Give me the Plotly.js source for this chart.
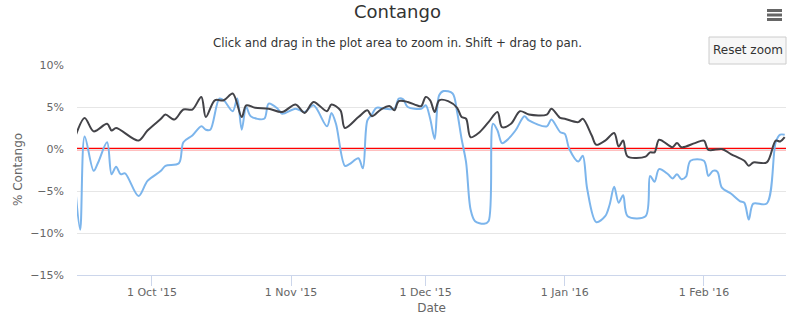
<!DOCTYPE html>
<html>
<head>
<meta charset="utf-8">
<script src="https://cdn.plot.ly/plotly-3.0.1.min.js"></script>
<style>
html,body{margin:0;padding:0;background:#fff;}
#chart{width:795px;height:327px;}
</style>
</head>
<body>
<div id="chart"></div>
<script>
// Dark series (front month contango)
var darkDates = ['2015-09-14','2015-09-16','2015-09-18','2015-09-21','2015-09-22','2015-09-23','2015-09-28','2015-09-30',
'2015-10-03','2015-10-04','2015-10-06','2015-10-08','2015-10-10','2015-10-12','2015-10-13','2015-10-15','2015-10-17','2015-10-19',
'2015-10-21','2015-10-22','2015-10-24','2015-10-27','2015-10-30',
'2015-11-02','2015-11-04','2015-11-06','2015-11-09','2015-11-10','2015-11-12','2015-11-13','2015-11-16','2015-11-18','2015-11-19',
'2015-11-21','2015-11-23','2015-11-24','2015-11-25','2015-11-27','2015-11-29','2015-11-30',
'2015-12-01','2015-12-02','2015-12-03','2015-12-04','2015-12-06','2015-12-08','2015-12-09','2015-12-10','2015-12-11','2015-12-13',
'2015-12-15','2015-12-17','2015-12-18','2015-12-20','2015-12-22','2015-12-24','2015-12-28','2015-12-29','2015-12-31',
'2016-01-01','2016-01-04','2016-01-05','2016-01-07','2016-01-08','2016-01-10','2016-01-12','2016-01-13','2016-01-14','2016-01-15',
'2016-01-19','2016-01-20','2016-01-21','2016-01-22','2016-01-24','2016-01-25','2016-01-26','2016-01-27','2016-01-30',
'2016-02-01','2016-02-02','2016-02-05','2016-02-07','2016-02-10','2016-02-11','2016-02-12','2016-02-15','2016-02-17','2016-02-18','2016-02-19'];
var darkValues = [1.6,3.7,2.1,3.0,2.2,2.5,1.0,2.2,
3.6,4.1,3.5,4.7,4.7,6.2,3.8,5.8,5.8,6.6,
3.8,5.2,4.9,4.8,4.4,
5.3,4.3,5.6,4.5,5.3,4.6,2.5,3.8,4.6,3.9,
4.7,5.1,4.6,5.7,5.6,5.2,5.1,
6.2,5.8,4.4,5.8,5.7,4.9,3.8,3.6,1.4,2.0,
3.2,4.4,2.6,3.0,4.5,4.1,4.1,4.8,3.7,
3.6,3.2,3.6,1.6,0.5,1.0,1.9,0.3,1.0,-0.9,
-0.9,-0.4,-0.4,1.1,0.5,0.2,0.7,0.2,0.7,
1.0,-0.1,0.0,-0.6,-1.4,-2.0,-1.6,-1.6,1.0,0.9,1.4];

// Light series
var lightDates = ['2015-09-14','2015-09-15','2015-09-16','2015-09-18','2015-09-19','2015-09-21','2015-09-22','2015-09-23','2015-09-24',
'2015-09-25','2015-09-28','2015-09-30',
'2015-10-03','2015-10-04','2015-10-07','2015-10-08','2015-10-10','2015-10-12','2015-10-13','2015-10-14','2015-10-16','2015-10-17',
'2015-10-19','2015-10-20','2015-10-21','2015-10-22','2015-10-23','2015-10-26','2015-10-27','2015-10-29','2015-10-30',
'2015-11-02','2015-11-04','2015-11-06','2015-11-09','2015-11-10','2015-11-11','2015-11-13','2015-11-14','2015-11-16','2015-11-17',
'2015-11-18','2015-11-19','2015-11-20','2015-11-22','2015-11-24','2015-11-25','2015-11-26','2015-11-27','2015-11-30',
'2015-12-01','2015-12-02','2015-12-03','2015-12-04','2015-12-05','2015-12-07','2015-12-08','2015-12-09','2015-12-10','2015-12-11',
'2015-12-12','2015-12-14','2015-12-15','2015-12-16','2015-12-17','2015-12-18','2015-12-19','2015-12-21','2015-12-23','2015-12-24',
'2015-12-28','2015-12-29','2015-12-31',
'2016-01-01','2016-01-02','2016-01-04','2016-01-05','2016-01-06','2016-01-08','2016-01-10','2016-01-11','2016-01-12','2016-01-13',
'2016-01-14','2016-01-15','2016-01-19','2016-01-20','2016-01-21','2016-01-22','2016-01-24','2016-01-25','2016-01-26','2016-01-27',
'2016-01-28','2016-01-29',
'2016-02-01','2016-02-02','2016-02-03','2016-02-04','2016-02-05','2016-02-07','2016-02-09','2016-02-10','2016-02-11','2016-02-12',
'2016-02-15','2016-02-17','2016-02-18','2016-02-19'];
var lightValues = [-5.2,-9.6,1.5,-2.6,-1.6,0.8,-3.0,-2.1,-3.0,
-2.9,-5.6,-3.8,
-2.6,-2.0,-1.7,0.8,1.6,2.7,2.3,2.3,6.0,5.8,
4.5,6.0,2.3,5.0,3.9,3.6,5.4,4.8,4.2,
4.8,4.4,5.2,2.7,4.3,3.0,-2.0,-1.8,-1.1,-2.3,
3.4,4.1,4.9,4.8,4.8,6.0,5.9,5.0,4.8,
5.2,3.6,1.2,6.4,6.9,6.6,4.4,1.2,-1.6,-7.2,
-8.6,-8.9,-8.6,3.0,2.2,0.7,1.0,2.2,3.9,3.4,
2.7,3.5,2.0,
1.8,0.0,-1.5,-0.8,-4.8,-8.7,-8.0,-6.6,-4.5,-6.4,
-5.5,-8.0,-8.0,-3.2,-3.9,-2.4,-3.0,-3.5,-3.0,-3.6,
-3.3,-1.4,
-1.4,-3.2,-2.6,-2.7,-4.6,-5.3,-6.2,-6.4,-8.4,-6.5,
-6.5,0.8,1.7,1.7];

var yTicks = [-15,-10,-5,0,5,10];
var yTickText = ['−15%','−10%','−5%','0%','5%','10%'];
var xTicks = ['2015-10-01','2015-11-01','2015-12-01','2016-01-01','2016-02-01'];
var xTickText = ["1 Oct '15","1 Nov '15","1 Dec '15","1 Jan '16","1 Feb '16"];

var FONT = 'DejaVu Sans, Lucida Grande, sans-serif';

var traces = [
  {x: lightDates, y: lightValues, type: 'scatter', mode: 'lines', name: 'Light',
   line: {color: '#7cb5ec', width: 2, shape: 'spline', smoothing: 0.9}, hoverinfo: 'x+y'},
  {x: darkDates, y: darkValues, type: 'scatter', mode: 'lines', name: 'Dark',
   line: {color: '#434348', width: 2, shape: 'spline', smoothing: 0.9}, hoverinfo: 'x+y'}
];

var layout = {
  width: 795, height: 327,
  margin: {l: 77, r: 9, t: 65, b: 52},
  paper_bgcolor: '#ffffff', plot_bgcolor: '#ffffff',
  showlegend: false,
  font: {family: FONT, color: '#666666', size: 11},
  title: {text: 'Contango', font: {family: FONT, size: 18, color: '#333333'},
          x: 0.5, xanchor: 'center', y: 0.965, yanchor: 'middle', yref: 'container'},
  xaxis: {
    type: 'date',
    range: ['2015-09-14 07:00', '2016-02-19 07:00'],
    tickmode: 'array', tickvals: xTicks, ticktext: xTickText,
    ticks: 'outside', ticklen: 10, tickcolor: '#ccd6eb', tickwidth: 1,
    ticklabelstandoff: -3,
    showline: true, linecolor: '#ccd6eb', linewidth: 1,
    showgrid: false, zeroline: false,
    tickfont: {family: FONT, size: 11, color: '#666666'},
    title: {text: 'Date', font: {family: FONT, size: 12, color: '#666666'}, standoff: 5}
  },
  yaxis: {
    range: [-15, 10],
    tickmode: 'array', tickvals: yTicks, ticktext: yTickText,
    showgrid: true, gridcolor: '#e6e6e6', gridwidth: 1,
    zeroline: false, showline: false, ticks: '',
    ticklabelstandoff: 12,
    tickfont: {family: FONT, size: 11, color: '#666666'}
  },
  shapes: [
    {type: 'line', xref: 'paper', yref: 'y', x0: 0, x1: 1, y0: 0, y1: 0,
     line: {color: '#ff0000', width: 2.5}, layer: 'between'},
    // Reset zoom button
    {type: 'rect', xref: 'paper', yref: 'paper', xsizemode: 'pixel', ysizemode: 'pixel',
     xanchor: 1, yanchor: 1, x0: -77, x1: 0, y0: 1, y1: 28,
     fillcolor: '#f7f7f7', line: {color: '#cccccc', width: 1}},
    // menu icon
    {type: 'line', xref: 'paper', yref: 'paper', xsizemode: 'pixel', ysizemode: 'pixel',
     xanchor: 1, yanchor: 1, x0: -19, x1: -4, y0: 54.5, y1: 54.5, line: {color: '#666666', width: 3}},
    {type: 'line', xref: 'paper', yref: 'paper', xsizemode: 'pixel', ysizemode: 'pixel',
     xanchor: 1, yanchor: 1, x0: -19, x1: -4, y0: 50, y1: 50, line: {color: '#666666', width: 3}},
    {type: 'line', xref: 'paper', yref: 'paper', xsizemode: 'pixel', ysizemode: 'pixel',
     xanchor: 1, yanchor: 1, x0: -19, x1: -4, y0: 45.5, y1: 45.5, line: {color: '#666666', width: 3}}
  ],
  annotations: [
    {text: 'Click and drag in the plot area to zoom in. Shift + drag to pan.', xref: 'paper', yref: 'paper',
     x: 0.5 + (397.5 - 431.5) / 709, y: 1, yshift: 22, xanchor: 'center', yanchor: 'middle', showarrow: false,
     font: {family: FONT, size: 11.8, color: '#333333'}},
    {text: '% Contango', xref: 'paper', yref: 'paper', x: 0, xshift: -59, y: 0.5, textangle: -90,
     xanchor: 'center', yanchor: 'middle', showarrow: false,
     font: {family: FONT, size: 12, color: '#666666'}},
    {text: 'Reset zoom', xref: 'paper', yref: 'paper', x: 1, xshift: -38.5, y: 1, yshift: 15,
     xanchor: 'center', yanchor: 'middle', showarrow: false,
     font: {family: FONT, size: 12, color: '#333333'}}
  ]
};

Plotly.newPlot('chart', traces, layout, {displayModeBar: false, responsive: false});
</script>
</body>
</html>
